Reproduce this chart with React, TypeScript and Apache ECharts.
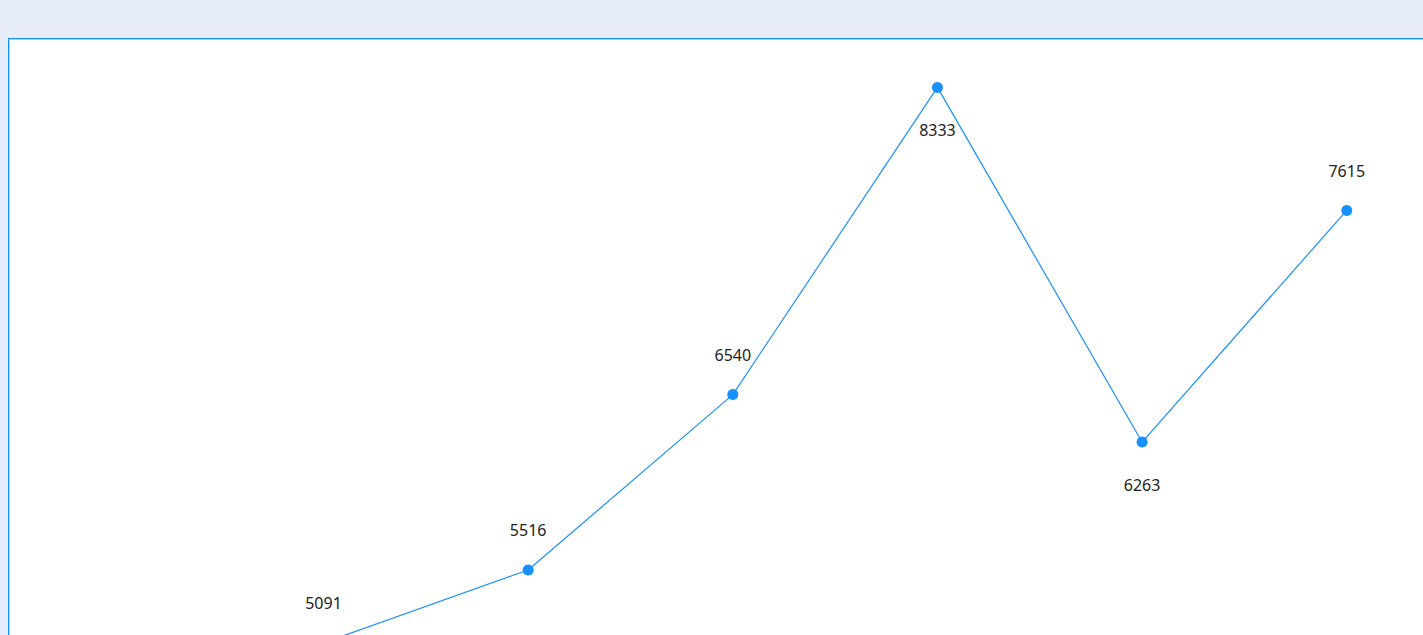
import React, { useEffect, useRef } from "react";
import * as echarts from "echarts";

const categories = ["1", "2", "3", "4", "5", "6"];
const values = [5091, 5516, 6540, 8333, 6263, 7615];
// label side for each point: true = below the point
const labelsBelow = [false, false, false, true, true, false];

const BLUE = "#1890FF";

export default function App() {
  const ref = useRef<HTMLDivElement | null>(null);

  useEffect(() => {
    if (!ref.current) return;
    const chart = echarts.init(ref.current, undefined, { renderer: "svg" });
    chart.setOption({
      animation: false,
      grid: { left: 314.5, top: 19.8, width: 1023.25, height: 1456.2 },
      xAxis: {
        type: "category",
        data: categories,
        boundaryGap: false,
        show: false,
      },
      yAxis: {
        type: "value",
        min: 0,
        max: 8500,
        show: false,
        splitLine: { show: false },
      },
      series: [
        {
          type: "line",
          data: values.map((v, i) => ({
            value: v,
            label: {
              show: true,
              position: "inside",
              offset: [0, labelsBelow[i] ? 42.8 : -39.8],
            },
          })),
          symbol: "circle",
          symbolSize: 11,
          showAllSymbol: true,
          lineStyle: { color: BLUE, width: 1.2 },
          itemStyle: { color: BLUE },
          label: {
            show: true,
            color: "#222222",
            fontSize: 16,
            fontFamily: "Noto Sans",
          },
          emphasis: { disabled: true },
        },
      ],
    });
    return () => chart.dispose();
  }, []);

  return (
    <div
      style={{
        position: "fixed",
        inset: 0,
        background: "#E6EDF9",
        overflow: "hidden",
      }}
    >
      <div
        style={{
          position: "absolute",
          left: 8,
          top: 38,
          width: 1600,
          height: 1560,
          background: "#fff",
          border: "1px solid #1890FF",
          boxShadow: "inset 1px 1px 0 #A6D4FF",
        }}
      >
        <div ref={ref} style={{ width: 1600, height: 1560 }} />
      </div>
    </div>
  );
}
